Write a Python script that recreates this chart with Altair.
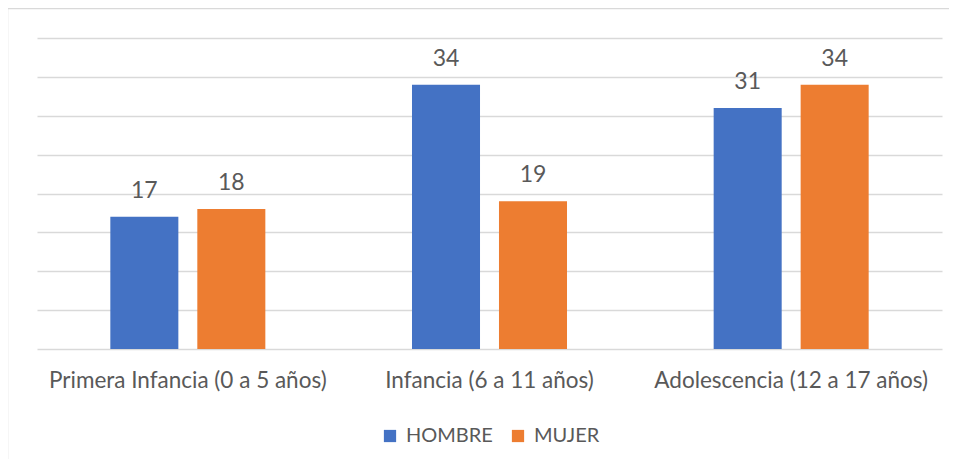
import altair as alt
import pandas as pd

categories = ["Primera Infancia (0 a 5 años)", "Infancia (6 a 11 años)", "Adolescencia (12 a 17 años)"]
series = ["HOMBRE", "MUJER"]
hombre = [17, 34, 31]
mujer = [18, 19, 34]
colors = ["#4472C4", "#ED7D31"]

rows = []
for c, h, m in zip(categories, hombre, mujer):
    rows.append({"cat": c, "sexo": "HOMBRE", "val": h})
    rows.append({"cat": c, "sexo": "MUJER", "val": m})
df = pd.DataFrame(rows)

FONT = "Lato"
TXT = "#595959"

x = alt.X("cat:N", sort=categories, title=None,
          scale=alt.Scale(paddingInner=0, paddingOuter=0),
          axis=alt.Axis(labelAngle=0, ticks=False, domain=False, labelFontSize=22.5,
                        labelFont=FONT, labelColor=TXT, labelPadding=20, labelLimit=0))
xo = alt.XOffset("sexo:N", sort=series,
                 scale=alt.Scale(paddingInner=0.218, paddingOuter=0.843))
y = alt.Y("val:Q", title=None,
          scale=alt.Scale(domain=[0, 40]),
          axis=alt.Axis(values=[0, 5, 10, 15, 20, 25, 30, 35, 40], labels=False, ticks=False,
                        domain=False, grid=True, gridColor="#d9d9d9", gridWidth=1.3))
color = alt.Color("sexo:N", sort=series, title=None,
                  scale=alt.Scale(domain=series, range=colors),
                  legend=alt.Legend(orient="none", legendX=343, legendY=388, direction="horizontal",
                                    symbolType="square", symbolSize=150, symbolStrokeWidth=0,
                                    labelFontSize=20, labelFont=FONT, labelColor=TXT,
                                    columnPadding=15, symbolOffset=0, padding=0, labelOffset=6))

base = alt.Chart(df)
bars = base.mark_bar().encode(x=x, xOffset=xo, y=y, color=color)
labels = base.mark_text(baseline="alphabetic", dy=-19, fontSize=23, font=FONT, color=TXT).encode(
    x=x, xOffset=xo, y=y, text="val:Q")

frame = alt.Chart(pd.DataFrame({"k": [0]})).mark_rect(
    filled=False, stroke="#d9d9d9", strokeWidth=1.5).encode(
    x=alt.value(-29.5), x2=alt.value(1100), y=alt.value(-29.5), y2=alt.value(600))

chart = alt.layer(frame, bars, labels).properties(
    width=905, height=311,
    autosize=alt.AutoSizeParams(type="none"),
    padding={"left": 29, "top": 30, "right": 7, "bottom": 110},
).configure(background="white").configure_view(stroke=None)

chart.save("out.html", embed_options={"renderer": "svg", "actions": False})
